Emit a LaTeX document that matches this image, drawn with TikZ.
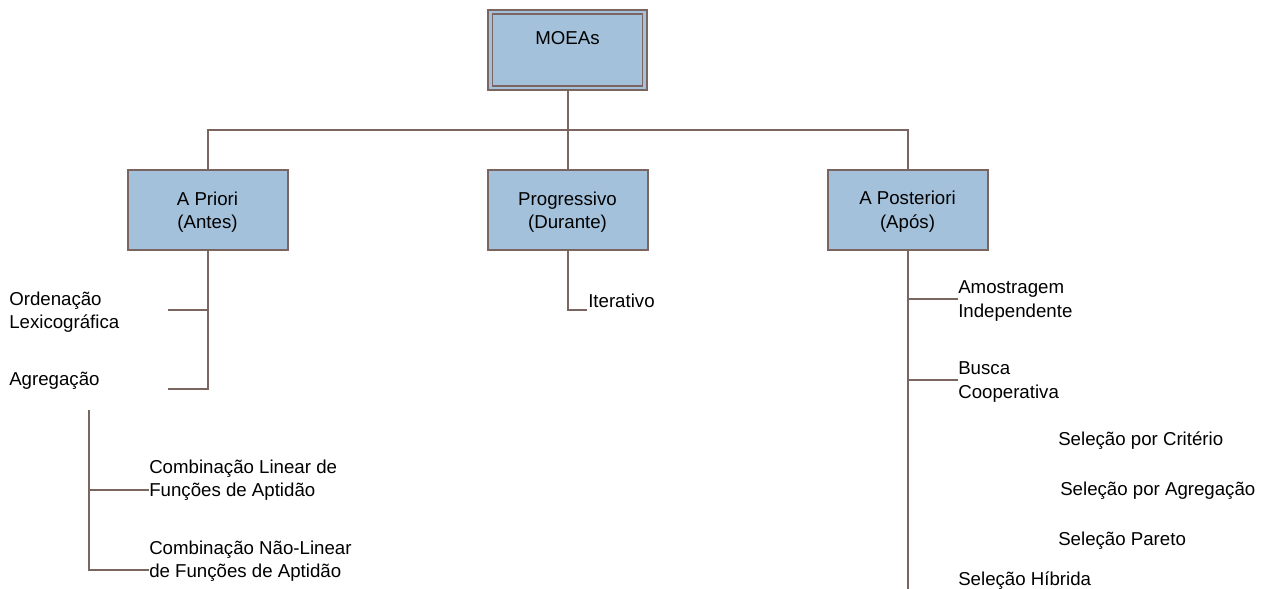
\documentclass[tikz,border=0pt]{standalone}
\usepackage{fontspec}
\setmainfont{Liberation Sans}
\definecolor{boxfill}{HTML}{A3C1DA}
\definecolor{linecol}{HTML}{7B6561}
% taller first line keeps the two-line box captions slightly low
\newcommand{\boxstrut}{\rule{0pt}{13pt}}
\begin{document}
\begin{tikzpicture}[x=0.75pt,y=-0.75pt,
  every node/.style={font=\fontsize{14}{17.5}\selectfont},
  catbox/.style={draw=linecol,fill=boxfill,line width=1.5pt,minimum width=120pt,minimum height=60pt,align=center,inner sep=0pt,font=\fontsize{14}{17.6}\selectfont},
  rootbox/.style={draw=linecol,double=boxfill,double distance=2.2pt,line width=1.3pt,fill=boxfill,minimum width=116pt,minimum height=57pt,inner sep=0pt,text height=10pt,text depth=18pt},
  leaf/.style={anchor=west,align=left,inner sep=0pt},
  conn/.style={draw=linecol,line width=1.5pt}]
\useasboundingbox (0,0) rectangle (1271,589);

% boxes
\node[rootbox] (moeas) at (567.5,50) {MOEAs};
\node[catbox] (apri) at (207.5,210) {\boxstrut A Priori\\(Antes)};
\node[catbox] (prog) at (567.5,210) {\boxstrut Progressivo\\(Durante)};
\node[catbox] (apos) at (907.5,210) {\boxstrut A Posteriori\\(Após)};

% leaves
\node[leaf] (ord) at (9,312) {Ordenação\\Lexicográfica};
\node[leaf] (agr) at (9,380.5) {Agregação};
\node[leaf] (clin) at (149,480.5) {Combinação Linear de\\Funções de Aptidão};
\node[leaf] (cnlin) at (149,561) {Combinação Não-Linear\\de Funções de Aptidão};
\node[leaf] (iter) at (588,300.5) {Iterativo};
\node[leaf] (amos) at (958,301) {Amostragem\\Independente};
\node[leaf] (busca) at (958,382) {Busca\\Cooperativa};
\node[leaf] (scrit) at (1058,440.5) {Seleção por Critério};
\node[leaf] (sagr) at (1060,490.5) {Seleção por Agregação};
\node[leaf] (spar) at (1058,540.5) {Seleção Pareto};
\node[leaf] (shib) at (958,580.5) {Seleção Híbrida};

% junction points
\coordinate (busL) at (207.5,130);
\coordinate (busR) at (907.5,130);
\coordinate (pj1) at (207.5,310);
\coordinate (pe1) at (168,310);
\coordinate (pe2) at (168,389);
\coordinate (gtop) at (89,410);
\coordinate (gj1) at (89,490);
\coordinate (ge1) at (149,490);
\coordinate (ge2) at (149,570);
\coordinate (ie) at (587,310);
\coordinate (aj1) at (907.5,299);
\coordinate (ae1) at (958,299);
\coordinate (aj2) at (907.5,380);
\coordinate (ae2) at (958,380);
\coordinate (abot) at (907.5,589);

% connectors
\draw[conn] (moeas.south) -- (prog.north);
\draw[conn] (apri.north) -- (busL) -- (busR) -- (apos.north);
\draw[conn] (apri.south) |- (pe2);
\draw[conn] (pj1) -- (pe1);
\draw[conn] (gtop) |- (ge2);
\draw[conn] (gj1) -- (ge1);
\draw[conn] (prog.south) |- (ie);
\draw[conn] (apos.south) -- (abot);
\draw[conn] (aj1) -- (ae1);
\draw[conn] (aj2) -- (ae2);
\end{tikzpicture}
\end{document}
